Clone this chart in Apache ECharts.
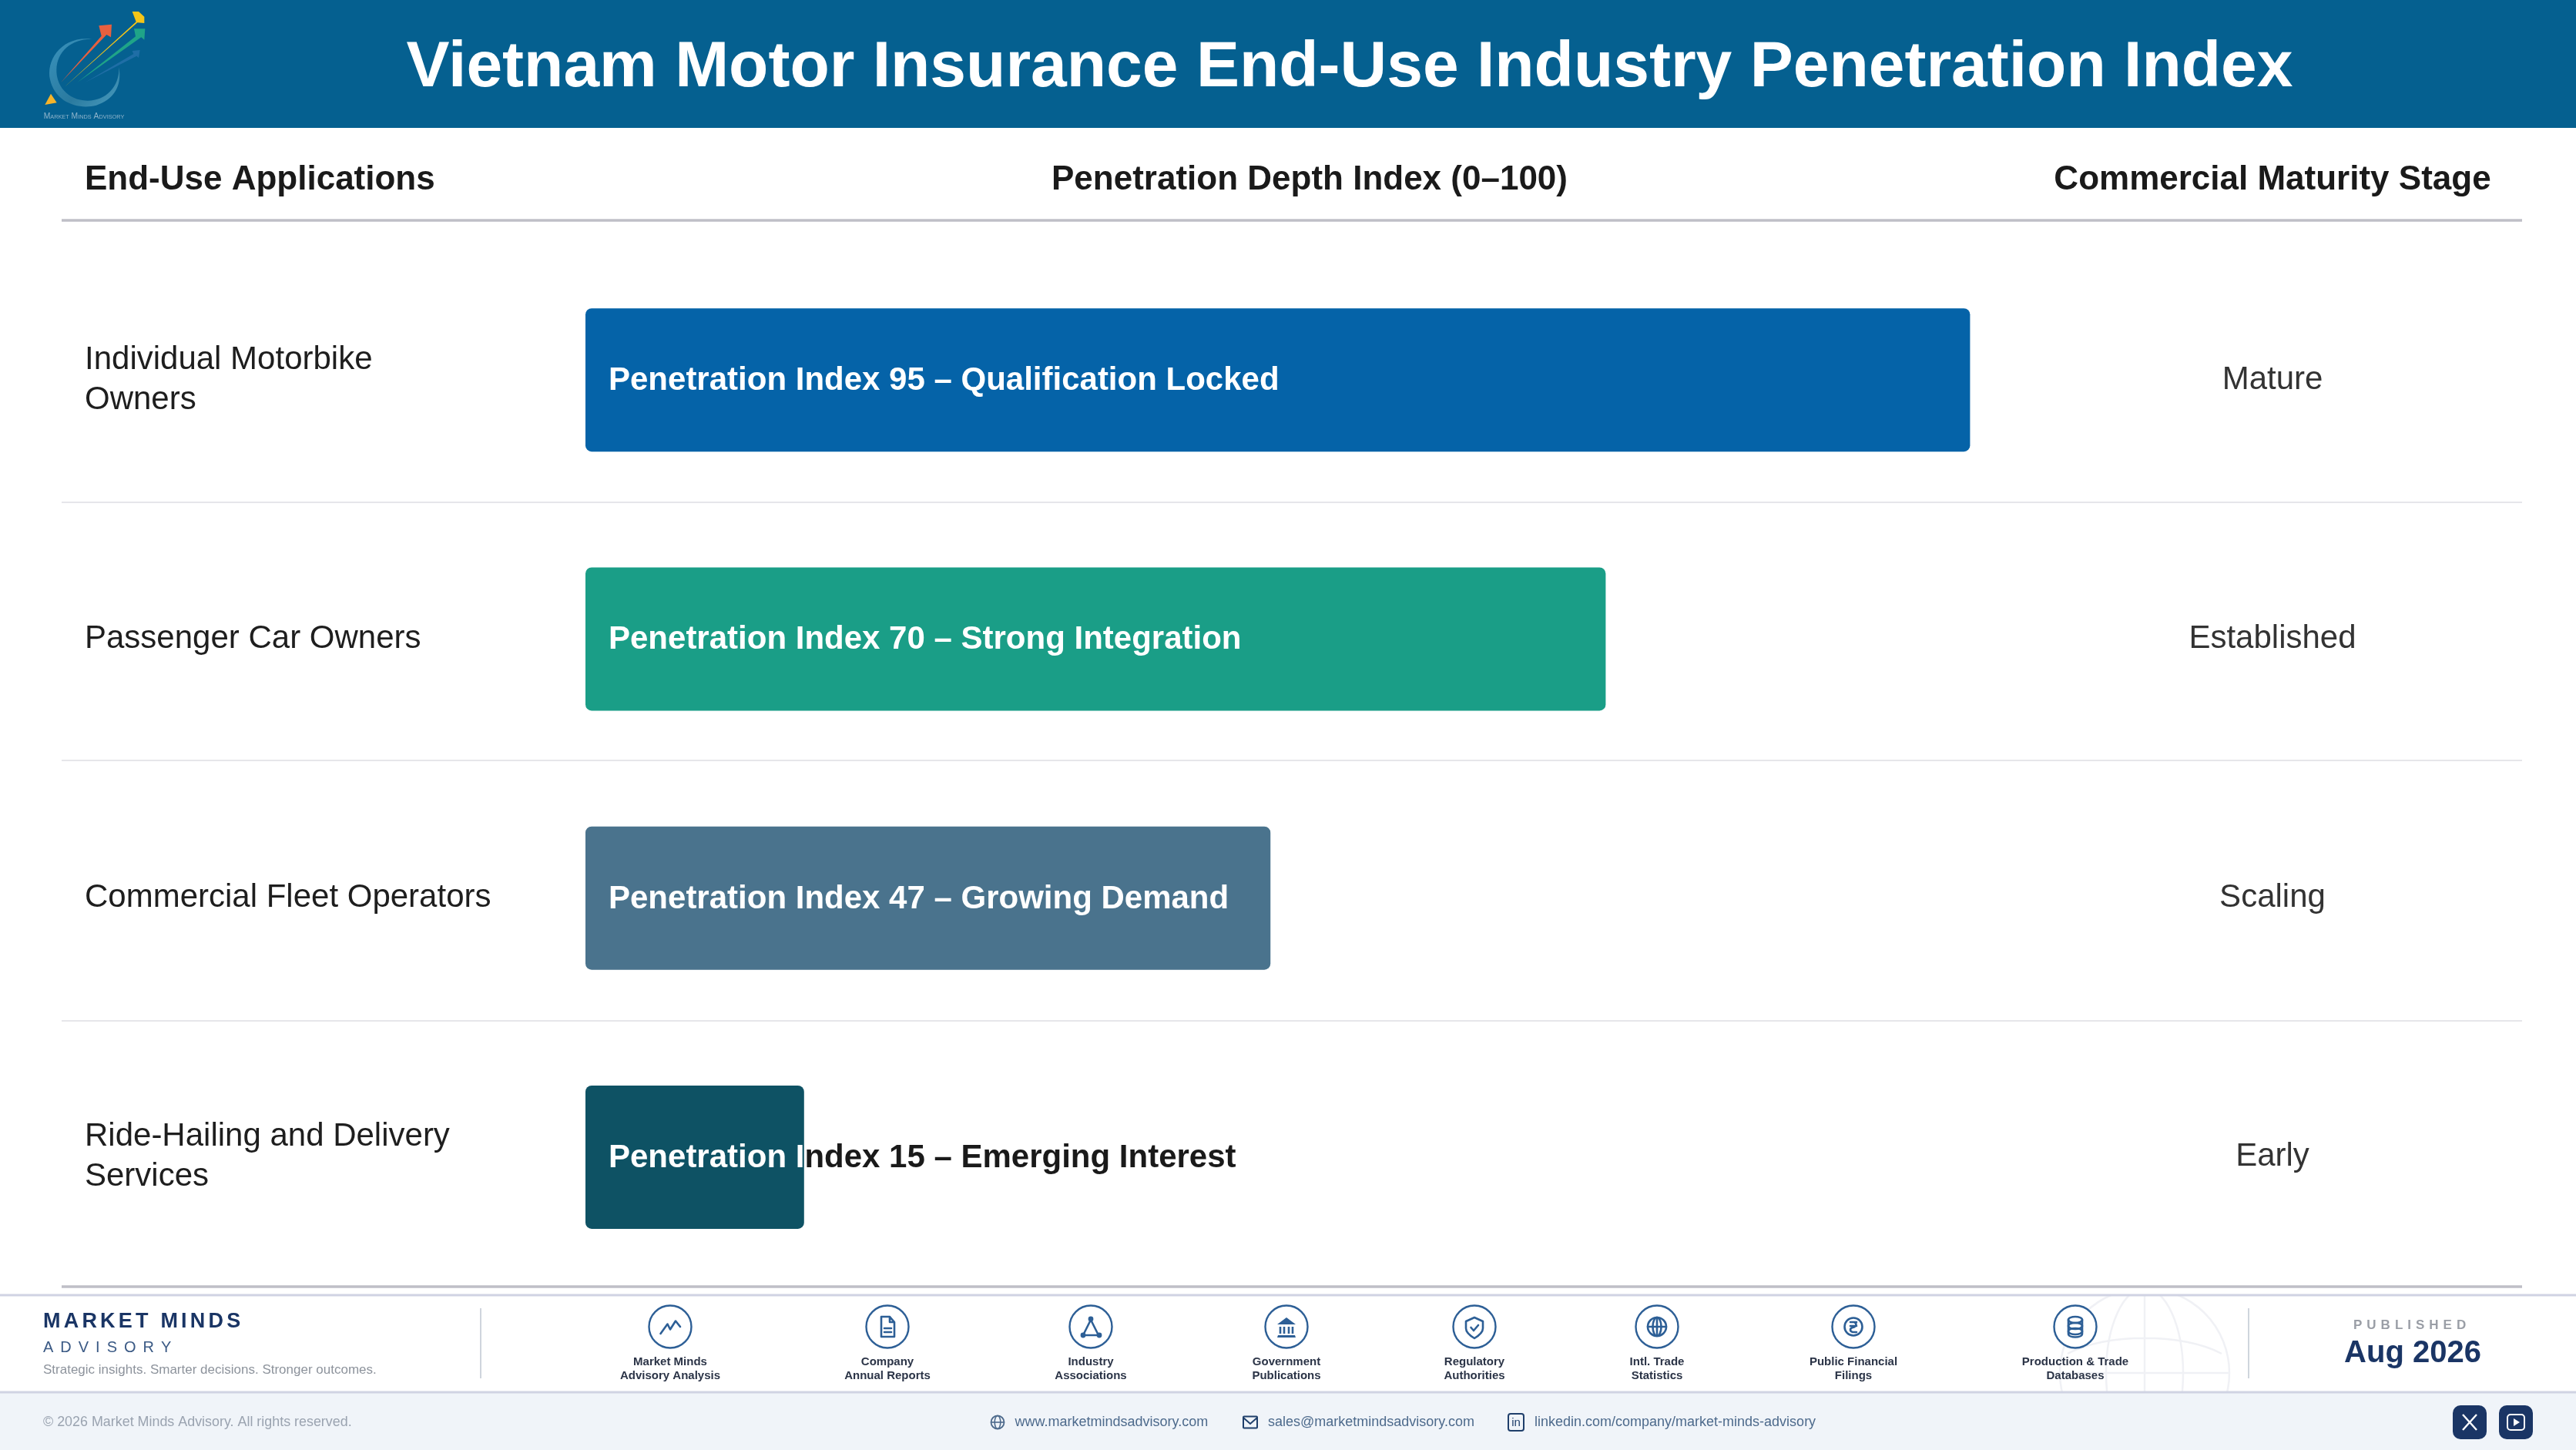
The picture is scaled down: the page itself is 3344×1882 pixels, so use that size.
<!DOCTYPE html>
<html><head><meta charset="utf-8">
<style>html,body{margin:0;padding:0;background:#fff}#c{width:3344px;height:1882px}</style>
<script src="https://cdn.jsdelivr.net/npm/echarts@6/dist/echarts.min.js"></script>
</head><body><div id="c"></div>
<script>
const categories = ['Individual Motorbike\nOwners','Passenger Car Owners','Commercial Fleet Operators','Ride-Hailing and Delivery\nServices'];
const penetrationIndex = [95,70,47,15];
const qualifiers = ['Qualification Locked','Strong Integration','Growing Demand','Emerging Interest'];
const maturityStages = ['Mature','Established','Scaling','Early'];
const barColors = ['#0563A8','#1A9E87','#4A738D','#0E5264'];
const sources = [['Market Minds','Advisory Analysis'],['Company','Annual Reports'],['Industry','Associations'],['Government','Publications'],['Regulatory','Authorities'],['Intl. Trade','Statistics'],['Public Financial','Filings'],['Production & Trade','Databases']];
const sourceX = [870,1152,1416,1670,1914,2151,2406,2694];

const FF = '"Liberation Sans"';
// wide tracking for the three footer captions: glyphs advance one at a time
const tracking = {'MARKET MINDS':4.2,'ADVISORY':9,'PUBLISHED':6};
const _fill = CanvasRenderingContext2D.prototype.fillText;
CanvasRenderingContext2D.prototype.fillText = function(t,x,y,m){
  if(tracking[t]){let cx=x;for(const c of t){_fill.call(this,c,cx,y);cx+=this.measureText(c).width+tracking[t];}}
  else if(m===undefined)_fill.call(this,t,x,y); else _fill.call(this,t,x,y,m);
};

let pid=0;
function P(d,style,extra){
  const n='gp'+(pid++);
  echarts.graphic.registerShape(n,echarts.graphic.extendPath(d));
  return Object.assign({type:n,style:style,silent:true},extra||{});
}
function T(text,x,y,font,fill,align,extra){
  return Object.assign({type:'text',silent:true,style:{text,x,y,font,fill,
    align:align||'left',textAlign:align||'left',verticalAlign:'middle',textVerticalAlign:'middle'}},extra||{});
}
function R(x,y,w,h,fill,z,r){return {type:'rect',silent:true,z:z===undefined?0:z,shape:{x,y,width:w,height:h,r:r||0},style:{fill}};}
function L(x1,y1,x2,y2,stroke,w,z){return {type:'line',silent:true,z:z===undefined?0:z,shape:{x1,y1,x2,y2},style:{stroke,lineWidth:w}};}
function Zed(el,z){el.z=z;(el.children||[]).forEach(c=>Zed(c,z));return el;}

const IC='#2D5F96';
const sk={stroke:IC,fill:'none',lineWidth:2.6,lineJoin:'round',lineCap:'round'};
const fl={fill:IC};
const iconGlyphs=[
 ()=>[P('M-12.5 9 L-3.5 -3.5 L0 3.5 L7 -7.5 L13 0',sk)],
 ()=>[P('M-8 -13 L3 -13 L9 -6 L9 13 L-8 13 Z M3 -13 L3 -6 L9 -6 M-4 2 L5 2 M-4 7 L5 7',sk)],
 ()=>[P('M0 -9 L-10 11 L10 11 Z',sk),{type:'circle',silent:true,shape:{cx:0,cy:-10,r:3.4},style:fl},{type:'circle',silent:true,shape:{cx:-10,cy:11,r:3.4},style:fl},{type:'circle',silent:true,shape:{cx:11,cy:11,r:3.4},style:fl}],
 ()=>[P('M0 -12 L12 -3 L-12 -3 Z M-11 11 L11 11 L12 14 L-12 14 Z',fl),P('M-8 0 L-8 9 M-3 0 L-3 9 M3 0 L3 9 M8 0 L8 9',{stroke:IC,lineWidth:2.6,fill:'none'})],
 ()=>[P('M0 -12 L11 -7 L11 2 C11 8 5 12 0 15 C-5 12 -11 8 -11 2 L-11 -7 Z M-4.5 1 L-1 5 L5 -2',sk)],
 ()=>[{type:'circle',silent:true,shape:{cx:0,cy:0,r:12},style:sk},P('M-12 0 L12 0 M0 -12 L0 12',sk),{type:'ellipse',silent:true,shape:{cx:0,cy:0,rx:5.5,ry:12},style:sk}],
 ()=>[{type:'circle',silent:true,shape:{cx:0,cy:0,r:11.5},style:sk},P('M-4 -6 L4 -6 M1 -6 C5 -4 4 0 -1 1 C-5 2 -5 6 -1 7 L4 7 M-4 -1 L4 -1',sk)],
 ()=>[P('M-9 -9 L-9 9 C-9 15 9 15 9 9 L9 -9',sk),{type:'ellipse',silent:true,shape:{cx:0,cy:-9,rx:9,ry:4},style:sk},{type:'ellipse',silent:true,shape:{cx:0,cy:-1,rx:9,ry:4},style:sk},{type:'ellipse',silent:true,shape:{cx:0,cy:6,rx:9,ry:4},style:sk}]
];
const footerIcons=[];
sources.forEach((s,i)=>{
  footerIcons.push(Zed({type:'group',x:sourceX[i],y:1722,children:[{type:'circle',silent:true,shape:{cx:0,cy:0,r:27.5},style:{fill:'#fff',stroke:IC,lineWidth:2.4}}].concat(iconGlyphs[i]())},5));
  footerIcons.push(T(s[0],sourceX[i],1768,'bold 15px '+FF,'#2B3447','center',{z:5}));
  footerIcons.push(T(s[1],sourceX[i],1786,'bold 15px '+FF,'#2B3447','center',{z:5}));
});

const logo={type:'group',x:30,y:0,scaleX:1/3,scaleY:1/3,z:3,children:[
  P('M268 152 C150 138 88 235 105 310 C125 400 215 428 285 410 C345 392 388 340 373 262 C376 340 320 393 250 392 C170 390 128 330 130 270 C132 200 190 150 268 152 Z',{fill:{type:'linear',x:0,y:0,x2:1,y2:1,colorStops:[{offset:0,color:'#3a93bd'},{offset:.6,color:'#2a7a9f'},{offset:1,color:'#4b9dc0'}]}}),
  {type:'polygon',silent:true,shape:{points:[[85,408],[108,365],[131,400]]},style:{fill:'#F6B42A'}},
  {type:'polygon',silent:true,shape:{points:[[240,322],[430,210],[425,198],[455,195],[450,225],[442,218]]},style:{fill:'#1F6EA6'}},
  {type:'polygon',silent:true,shape:{points:[[210,322],[438,142],[432,112],[475,112],[472,155],[460,145]]},style:{fill:'#1FA488'}},
  {type:'polygon',silent:true,shape:{points:[[148,320],[305,140],[295,100],[345,95],[342,145],[325,135]]},style:{fill:'#E8603F'}},
  {type:'polygon',silent:true,shape:{points:[[160,340],[440,85],[425,45],[450,45],[472,65],[472,90],[445,88]]},style:{fill:'#F5C518'}},
  T('Market Minds Advisory',80,452,'small-caps 31px '+FF,'#8FB4CB','left')
]};

const globe={type:'group',x:2784,y:1782,z:1,children:[
  {type:'circle',silent:true,shape:{cx:0,cy:0,r:110},style:{fill:'none',stroke:'#F0F1F5',lineWidth:2.5}},
  {type:'ellipse',silent:true,shape:{cx:0,cy:0,rx:50,ry:110},style:{fill:'none',stroke:'#F0F1F5',lineWidth:2.5}},
  P('M-110 0 L110 0 M0 -110 L0 110 M-100 -25 C-50 -52 50 -52 100 -25',{fill:'none',stroke:'#F0F1F5',lineWidth:2.5})
]};

const contact=[
  Zed({type:'group',x:1295,y:1846,children:[{type:'circle',silent:true,shape:{cx:0,cy:0,r:8.5},style:{fill:'none',stroke:'#4D6A8C',lineWidth:1.8}},{type:'ellipse',silent:true,shape:{cx:0,cy:0,rx:3.8,ry:8.5},style:{fill:'none',stroke:'#4D6A8C',lineWidth:1.6}},L(-8.5,0,8.5,0,'#4D6A8C',1.6,5)]},5),
  Zed({type:'group',x:1623,y:1846,children:[{type:'rect',silent:true,shape:{x:-9,y:-7.5,width:18,height:15,r:1},style:{fill:'none',stroke:'#1F3F6B',lineWidth:2}},P('M-9 -6 L0 2 L9 -6',{fill:'none',stroke:'#1F3F6B',lineWidth:2})]},5),
  Zed({type:'group',x:1968,y:1846,children:[{type:'rect',silent:true,shape:{x:-10,y:-11,width:20,height:22,r:3},style:{fill:'none',stroke:'#1F3F6B',lineWidth:2}}]},5),
  T('in',1968,1847,'15px '+FF,'#1F3F6B','center',{z:6}),
  T('www.marketmindsadvisory.com',1317.5,1846,'18px '+FF,'#4D6A8C','left',{z:5}),
  T('sales@marketmindsadvisory.com',1646,1846,'18px '+FF,'#4D6A8C','left',{z:5}),
  T('linkedin.com/company/market-minds-advisory',1992,1846,'18px '+FF,'#4D6A8C','left',{z:5}),
  R(3184,1824,44,44,'#1A3565',5,10),
  R(3244,1824,44,44,'#1A3565',5,10),
  P('M3197 1836 L3215 1856 M3215 1836 L3197 1856',{stroke:'#fff',fill:'none',lineWidth:2.4},{z:6}),
  {type:'rect',silent:true,z:6,shape:{x:3255,y:1836,width:22,height:20,r:4},style:{fill:'none',stroke:'#fff',lineWidth:2}},
  {type:'polygon',silent:true,z:6,shape:{points:[[3263,1841],[3271,1846],[3263,1851]]},style:{fill:'#fff'}}
];

const chart=echarts.init(document.getElementById('c'),null,{renderer:'canvas',width:3344,height:1882});
const BAR_H=186, LABEL_SIZE=42;
const mctx=document.createElement('canvas').getContext('2d');
mctx.font='bold '+LABEL_SIZE+'px '+FF;

function labelItem(params,api){
  const v=api.value(0), i=api.value(1);
  const p=api.coord([0,i]), e=api.coord([v,i]);
  const txt='Penetration Index '+v+' – '+qualifiers[params.dataIndex];
  const tx=p[0]+30, w=mctx.measureText(txt).width;
  const mk=(fill,cx,cw,shadow)=>({type:'text',
    style:Object.assign({text:txt,x:tx,y:p[1]+1.5,fill,font:'bold '+LABEL_SIZE+'px '+FF,fontSize:LABEL_SIZE,fontWeight:'bold',fontFamily:FF,align:'left',textAlign:'left',verticalAlign:'middle',textVerticalAlign:'middle'},
      shadow?{shadowColor:'rgba(0,0,0,0.55)',shadowBlur:3,shadowOffsetX:1.5,shadowOffsetY:1.5}:{}),
    clipPath:{type:'rect',shape:{x:cx,y:p[1]-BAR_H/2,width:cw,height:BAR_H}}});
  const ch=[mk('#FFFFFF',p[0],e[0]-p[0],true)];
  if(tx+w>e[0]) ch.push(mk('#1A1A1A',e[0],tx+w-e[0]+8,false));
  return {type:'group',children:ch};
}

chart.setOption({
  animation:false,
  backgroundColor:'#fff',
  title:{text:'Vietnam Motor Insurance End-Use Industry Penetration Index',left:1747,top:84,textAlign:'center',textVerticalAlign:'middle',
    textStyle:{color:'#fff',fontFamily:FF,fontWeight:'bold',fontSize:84}},
  grid:{left:760,top:325,width:1892,height:1345,containLabel:false},
  xAxis:{type:'value',min:0,max:100,show:false},
  yAxis:[
    {type:'category',data:categories,inverse:true,position:'left',axisLine:{show:false},axisTick:{show:false},
      axisLabel:{interval:0,align:'left',margin:650,color:'#1E1E1E',fontFamily:FF,fontSize:42,lineHeight:52}},
    {type:'category',data:maturityStages,inverse:true,position:'right',axisLine:{show:false},axisTick:{show:false},
      axisLabel:{interval:0,align:'center',margin:298,color:'#333',fontFamily:FF,fontSize:42}}
  ],
  series:[
    {type:'bar',barWidth:BAR_H,silent:true,data:penetrationIndex.map((v,i)=>({value:v,itemStyle:{color:barColors[i],borderRadius:8}}))},
    {type:'custom',clip:false,silent:true,z:5,encode:{x:0,y:1},data:penetrationIndex.map((v,i)=>[v,i]),renderItem:labelItem}
  ],
  graphic:{elements:[
    R(0,0,3344,166,'#056090',0),
    logo,
    T('End-Use Applications',110,234,'bold 44px '+FF,'#1A1A1A'),
    T('Penetration Depth Index (0–100)',1700,234,'bold 44px '+FF,'#1A1A1A','center'),
    T('Commercial Maturity Stage',2950,234,'bold 44px '+FF,'#1A1A1A','center'),
    L(80,286,3274,286,'#BFBFC7',3.5),
    L(80,652,3274,652,'#E6E6EA',2),
    L(80,987,3274,987,'#E6E6EA',2),
    L(80,1325,3274,1325,'#E6E6EA',2),
    globe,
    R(0,1660,3344,21,'#fff',2),
    L(80,1670,3274,1670,'#BFBFC7',3.5,3),
    R(0,1807,3344,75,'#F0F4F9',2),
    L(0,1681,3344,1681,'#D0D3E3',3,3),
    L(0,1807,3344,1807,'#D0D3E3',3,3),
    T('MARKET MINDS',56,1716,'bold 27px '+FF,'#1A3565','left',{z:5}),
    T('ADVISORY',56,1749,'20px '+FF,'#3B5A85','left',{z:5}),
    T('Strategic insights. Smarter decisions. Stronger outcomes.',56,1778,'17px '+FF,'#8D939C','left',{z:5}),
    L(624,1698,624,1789,'#CFD5DD',2,5),
    L(2919,1698,2919,1789,'#CFD5DD',2,5),
    T('PUBLISHED',3055,1720,'bold 17px '+FF,'#9A9EA6','left',{z:5}),
    T('Aug 2026',3132,1757,'bold 40px '+FF,'#1A3565','center',{z:5}),
    T('© 2026 Market Minds Advisory. All rights reserved.',56,1846,'17.9px '+FF,'#9AA3B0','left',{z:5})
  ].concat(footerIcons,contact)}
});
</script></body></html>
